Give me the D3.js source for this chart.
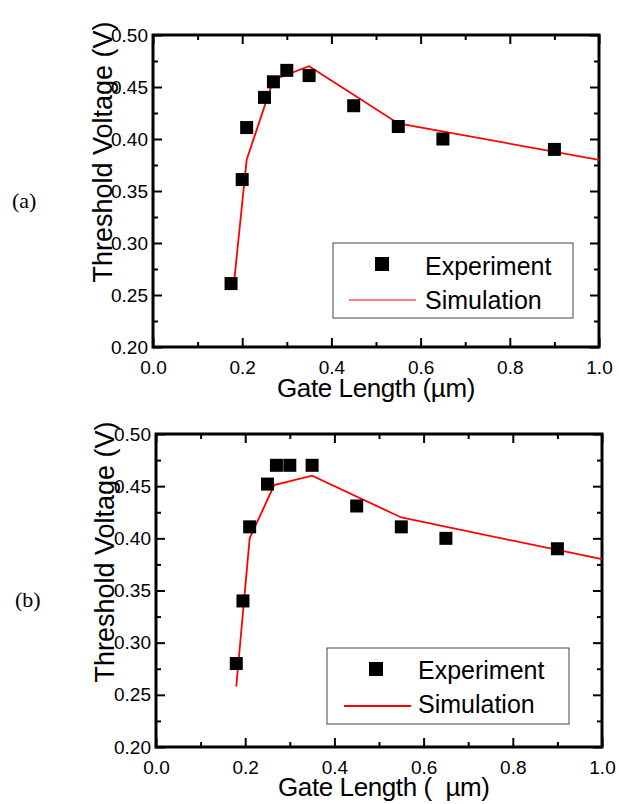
<!DOCTYPE html>
<html>
<head>
<meta charset="utf-8">
<script src="https://cdn.jsdelivr.net/npm/d3@7"></script>
<style>
  body { margin: 0; background: #fff; }
  svg { display: block; font-family: "Liberation Sans", Arial, sans-serif; }
</style>
</head>
<body>
<div id="chart"></div>
<script>
// panel (a)
const expA_x = [0.175, 0.20, 0.21, 0.25, 0.27, 0.30, 0.35, 0.45, 0.55, 0.65, 0.90];
const expA_y = [0.261, 0.361, 0.411, 0.440, 0.455, 0.466, 0.461, 0.432, 0.412, 0.400, 0.390];
const simA_x = [0.18, 0.21, 0.27, 0.35, 0.55, 1.0];
const simA_y = [0.255, 0.380, 0.457, 0.470, 0.415, 0.380];

// panel (b)
const expB_x = [0.18, 0.195, 0.21, 0.25, 0.27, 0.30, 0.35, 0.45, 0.55, 0.65, 0.90];
const expB_y = [0.280, 0.340, 0.411, 0.452, 0.470, 0.470, 0.470, 0.431, 0.411, 0.400, 0.390];
const simB_x = [0.18, 0.21, 0.265, 0.35, 0.55, 1.0];
const simB_y = [0.258, 0.400, 0.451, 0.460, 0.420, 0.380];

const xMajor = [0, 0.2, 0.4, 0.6, 0.8, 1.0];
const xMinor = [0.1, 0.3, 0.5, 0.7, 0.9];
const yMajor = [0.20, 0.25, 0.30, 0.35, 0.40, 0.45, 0.50];
const yMinor = [0.225, 0.275, 0.325, 0.375, 0.425, 0.475];

const legendLabels = ["Experiment", "Simulation"];

const width = 619, height = 804;

const svg = d3.select("#chart").append("svg")
  .attr("width", width)
  .attr("height", height);

const drawPanel = (p) => {
  const x = d3.scaleLinear().domain([0, 1]).range([p.left, p.right]);
  const y = d3.scaleLinear().domain([0.2, 0.5]).range([p.bottom, p.top]);
  const g = svg.append("g");

  const styleAxis = (sel, fs) => {
    sel.select(".domain").remove();
    sel.selectAll("line").attr("stroke", "#000").attr("stroke-width", 2);
    sel.selectAll("text").attr("font-size", fs).attr("fill", "#000")
      .attr("font-family", "'Liberation Sans', Arial, sans-serif");
  };

  // bottom
  g.append("g").attr("transform", `translate(0,${p.bottom})`)
    .call(d3.axisBottom(x).tickValues(xMajor).tickSizeInner(-9).tickSizeOuter(0)
      .tickPadding(14).tickFormat(d3.format(".1f")))
    .call(s => styleAxis(s, 19));
  g.append("g").attr("transform", `translate(0,${p.bottom})`)
    .call(d3.axisBottom(x).tickValues(xMinor).tickSizeInner(-5).tickSizeOuter(0).tickFormat(""))
    .call(s => styleAxis(s, 19));
  // top
  g.append("g").attr("transform", `translate(0,${p.top})`)
    .call(d3.axisTop(x).tickValues(xMajor).tickSizeInner(-9).tickSizeOuter(0).tickFormat(""))
    .call(s => styleAxis(s, 19));
  g.append("g").attr("transform", `translate(0,${p.top})`)
    .call(d3.axisTop(x).tickValues(xMinor).tickSizeInner(-5).tickSizeOuter(0).tickFormat(""))
    .call(s => styleAxis(s, 19));
  // left
  g.append("g").attr("transform", `translate(${p.left},0)`)
    .call(d3.axisLeft(y).tickValues(yMajor).tickSizeInner(-9).tickSizeOuter(0)
      .tickPadding(5).tickFormat(d3.format(".2f")))
    .call(s => styleAxis(s, 19));
  g.append("g").attr("transform", `translate(${p.left},0)`)
    .call(d3.axisLeft(y).tickValues(yMinor).tickSizeInner(-5).tickSizeOuter(0).tickFormat(""))
    .call(s => styleAxis(s, 19));
  // right
  g.append("g").attr("transform", `translate(${p.right},0)`)
    .call(d3.axisRight(y).tickValues(yMajor).tickSizeInner(-9).tickSizeOuter(0).tickFormat(""))
    .call(s => styleAxis(s, 19));
  g.append("g").attr("transform", `translate(${p.right},0)`)
    .call(d3.axisRight(y).tickValues(yMinor).tickSizeInner(-5).tickSizeOuter(0).tickFormat(""))
    .call(s => styleAxis(s, 19));

  // frame
  g.append("rect")
    .attr("x", p.left).attr("y", p.top)
    .attr("width", p.right - p.left).attr("height", p.bottom - p.top)
    .attr("fill", "none").attr("stroke", "#000").attr("stroke-width", 3);

  // simulation line
  const sim = p.simX.map((d, i) => [d, p.simY[i]]);
  g.append("path")
    .datum(sim)
    .attr("fill", "none")
    .attr("stroke", "#ff0000")
    .attr("stroke-width", 1.8)
    .attr("d", d3.line().x(d => x(d[0])).y(d => y(d[1])));

  // experiment squares
  const ms = 13;
  g.selectAll("rect.pt")
    .data(p.expX.map((d, i) => [d, p.expY[i]]))
    .enter()
    .append("rect")
    .attr("class", "pt")
    .attr("x", d => x(d[0]) - ms / 2)
    .attr("y", d => y(d[1]) - ms / 2)
    .attr("width", ms).attr("height", ms)
    .attr("fill", "#000");

  // axis titles
  g.append("text")
    .attr("x", p.xTitleX).attr("y", p.xTitleY)
    .attr("font-size", 26)
    .attr("letter-spacing", -0.4)
    .style("white-space", "pre")
    .text(p.xTitle);

  g.append("text")
    .attr("transform", `translate(${p.yTitleX},${p.yTitleY}) rotate(-90)`)
    .attr("text-anchor", "middle")
    .attr("font-size", 27)
    .text("Threshold Voltage (V)");

  // legend
  const L = p.legend;
  g.append("rect")
    .attr("x", L.x).attr("y", L.y).attr("width", L.w).attr("height", L.h)
    .attr("fill", "#fff").attr("stroke", "#444").attr("stroke-width", 1);
  g.append("rect")
    .attr("x", L.markX - 7).attr("y", L.markY - 7).attr("width", 14).attr("height", 14)
    .attr("fill", "#000");
  g.append("line")
    .attr("x1", L.lineX1).attr("x2", L.lineX2).attr("y1", L.lineY).attr("y2", L.lineY)
    .attr("stroke", "#ff0000").attr("stroke-width", L.lineW);
  g.append("text").attr("x", L.textX).attr("y", L.text1Y).attr("font-size", 25)
    .text(legendLabels[0]);
  g.append("text").attr("x", L.textX).attr("y", L.text2Y).attr("font-size", 25)
    .text(legendLabels[1]);

  // panel label
  svg.append("text")
    .attr("x", p.tagX).attr("y", p.tagY)
    .attr("font-family", "'Liberation Serif', 'Times New Roman', serif")
    .attr("font-size", 22)
    .text(p.tag);
};

drawPanel({
  left: 153, right: 599, top: 35, bottom: 347,
  expX: expA_x, expY: expA_y, simX: simA_x, simY: simA_y,
  xTitle: "Gate Length (\u00b5m)", xTitleX: 277, xTitleY: 397,
  yTitleX: 112, yTitleY: 152,
  legend: { x: 333, y: 243, w: 240, h: 75, markX: 382, markY: 264,
            lineX1: 349, lineX2: 416, lineY: 300, lineW: 1.2,
            textX: 425, text1Y: 275, text2Y: 309 },
  tag: "(a)", tagX: 12, tagY: 208
});

drawPanel({
  left: 156, right: 602, top: 434, bottom: 747,
  expX: expB_x, expY: expB_y, simX: simB_x, simY: simB_y,
  xTitle: "Gate Length (  \u00b5m)", xTitleX: 278, xTitleY: 796,
  yTitleX: 114, yTitleY: 552,
  legend: { x: 327, y: 648, w: 242, h: 76, markX: 376, markY: 669,
            lineX1: 344, lineX2: 411, lineY: 706, lineW: 2,
            textX: 418, text1Y: 679, text2Y: 713 },
  tag: "(b)", tagX: 15, tagY: 607
});
</script>
</body>
</html>
